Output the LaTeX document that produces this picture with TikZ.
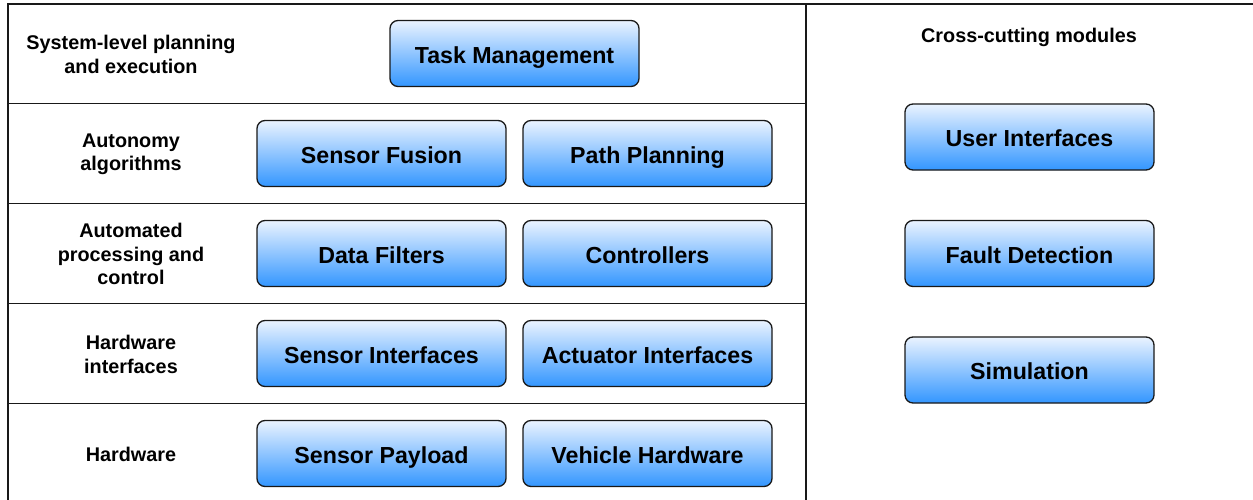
\documentclass[tikz,border=0pt]{standalone}
\usepackage{fontspec}
\setmainfont{Liberation Sans}
\begin{document}
\begin{tikzpicture}[x=1pt,y=-1pt,
  frame/.style={line width=1.4pt,draw=black!90},
  module/.style={draw=black!90,line width=1.3pt,rounded corners=8pt,
    top color={rgb,255:red,234;green,243;blue,255},
    bottom color={rgb,255:red,51;green,150;blue,255},
    minimum width=249pt,minimum height=66pt,inner sep=0pt,
    text height=19.4pt,text depth=0pt,
    font=\fontsize{23.2}{27}\selectfont\bfseries,text=black},
  layer/.style={align=center,font=\fontsize{19.8}{23.2}\selectfont\bfseries,text=black}]
\useasboundingbox (0,0) rectangle (1253,500);

% layer grid
\coordinate (tl) at (8,4);
\coordinate (tr) at (1260,4);
\coordinate (bl) at (8,505);
\coordinate (dt) at (806,4);
\coordinate (db) at (806,505);
\draw[frame] (tr) -- (tl) -- (bl);
\draw[frame] (dt) -- (db);
\foreach \y in {103.5,203.5,303.5,403.5}
  \draw[frame] (8,\y) -- (806,\y);

% layer names
\node[layer] (l1) at (131,54.5) {System-level planning\\and execution};
\node[layer] (l2) at (131,154.5) {Autonomy\\algorithms};
\node[layer] (l3) at (131,254) {Automated\\processing and\\control};
\node[layer] (l4) at (131,354.5) {Hardware\\interfaces};
\node[layer] (l5) at (131,454.5) {Hardware};
\node[layer] (cc) at (1029,37) {Cross-cutting modules};

% modules per layer
\node[module] (tm) at (514.5,53.5) {Task Management};
\node[module] (sf) at (381.5,153.5) {Sensor Fusion};
\node[module] (pp) at (647.5,153.5) {Path Planning};
\node[module] (df) at (381.5,253.5) {Data Filters};
\node[module] (ct) at (647.5,253.5) {Controllers};
\node[module] (si) at (381.5,353.5) {Sensor Interfaces};
\node[module] (ai) at (647.5,353.5) {Actuator Interfaces};
\node[module] (sp) at (381.5,453.5) {Sensor Payload};
\node[module] (vh) at (647.5,453.5) {Vehicle Hardware};

% cross-cutting modules
\node[module] (ui) at (1029.5,137) {User Interfaces};
\node[module] (fd) at (1029.5,253.5) {Fault Detection};
\node[module] (sm) at (1029.5,370) {Simulation};
\end{tikzpicture}
\end{document}
